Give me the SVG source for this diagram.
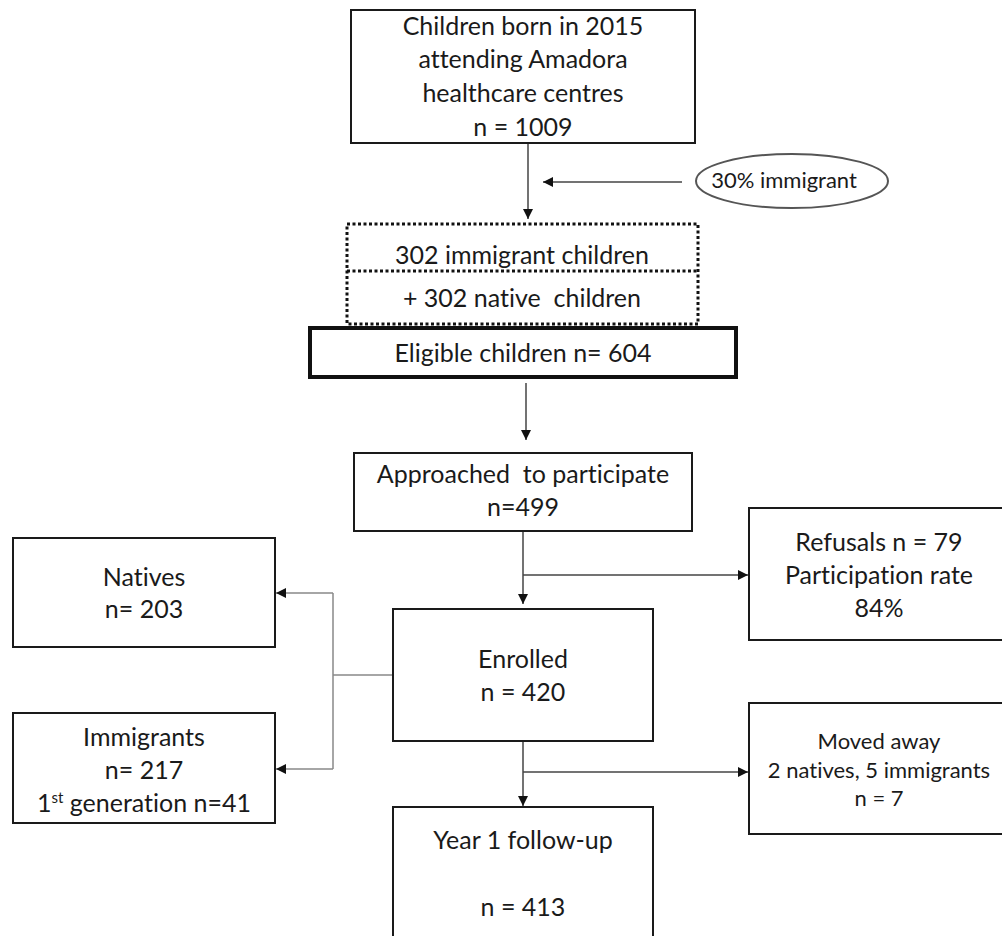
<svg xmlns="http://www.w3.org/2000/svg" width="1002" height="936" viewBox="0 0 1002 936">
<style>
  .box { fill: #fff; stroke: #1a1a1a; stroke-width: 2; }
  .thick { fill: #fff; stroke: #111; stroke-width: 4; }
  .dot { fill: none; stroke: #111; stroke-width: 3; stroke-dasharray: 3 2.5; }
  .t { font-family: Lato, "Liberation Sans", sans-serif; font-size: 25px; fill: #1a1a1a; text-anchor: middle; font-variant-ligatures: none; white-space: pre; }
  .s { font-size: 22px; }
  .c { stroke: #444; stroke-width: 1.5; fill: none; }
  .g { stroke: #888; stroke-width: 1.5; fill: none; }
</style>
<defs>
  <marker id="ah" viewBox="0 0 10 10" refX="10" refY="5" markerWidth="11" markerHeight="10" markerUnits="userSpaceOnUse" orient="auto">
    <path d="M0,0 L10,5 L0,10 Z" fill="#111"/>
  </marker>
</defs>

<g id="connectors">
  <line class="c" x1="528" y1="143" x2="528" y2="219" marker-end="url(#ah)"/>
  <line class="c" x1="682" y1="182" x2="543" y2="182" marker-end="url(#ah)"/>
  <line class="c" x1="526" y1="383" x2="526" y2="440" marker-end="url(#ah)"/>
  <line class="c" x1="523" y1="531" x2="523" y2="604" marker-end="url(#ah)"/>
  <line class="c" x1="523" y1="575" x2="748" y2="575" marker-end="url(#ah)"/>
  <line class="c" x1="523" y1="741" x2="523" y2="806" marker-end="url(#ah)"/>
  <line class="c" x1="523" y1="772" x2="748" y2="772" marker-end="url(#ah)"/>
  <line class="g" x1="393" y1="675" x2="333" y2="675"/>
  <line class="g" x1="333" y1="593" x2="333" y2="769"/>
  <line class="g" x1="333" y1="593" x2="276" y2="593" marker-end="url(#ah)"/>
  <line class="g" x1="333" y1="769" x2="276" y2="769" marker-end="url(#ah)"/>
</g>

<g id="n_born">
  <rect class="box" x="351" y="10" width="344" height="133"/>
  <text class="t" x="523" y="35">Children born in 2015</text>
  <text class="t" x="523" y="68">attending Amadora</text>
  <text class="t" x="523" y="102">healthcare centres</text>
  <text class="t" x="523" y="136">n = 1009</text>
</g>

<g id="n_pct">
  <ellipse cx="792" cy="181" rx="96" ry="27" fill="#fff" stroke="#555" stroke-width="2"/>
  <text class="t s" x="784" y="188">30% immigrant</text>
</g>

<g id="n_split">
  <rect class="dot" x="347" y="224" width="351" height="100"/>
  <line class="dot" x1="347" y1="271" x2="698" y2="271"/>
  <text class="t" x="522" y="264">302 immigrant children</text>
  <text class="t" x="522" y="307">+ 302 native  children</text>
</g>

<g id="n_eligible">
  <rect class="thick" x="310" y="328" width="426" height="49"/>
  <text class="t" x="523" y="362">Eligible children n= 604</text>
</g>

<g id="n_approached">
  <rect class="box" x="354" y="453" width="338" height="78"/>
  <text class="t" x="523" y="483">Approached  to participate</text>
  <text class="t" x="523" y="516">n=499</text>
</g>

<g id="n_refusals">
  <rect class="box" x="749" y="508" width="262" height="132"/>
  <text class="t" x="879" y="551">Refusals n = 79</text>
  <text class="t" x="879" y="584">Participation rate</text>
  <text class="t" x="879" y="617">84%</text>
</g>

<g id="n_natives">
  <rect class="box" x="13" y="538" width="262" height="109"/>
  <text class="t" x="144" y="586">Natives</text>
  <text class="t" x="144" y="618">n= 203</text>
</g>

<g id="n_enrolled">
  <rect class="box" x="393" y="609" width="260" height="132"/>
  <text class="t" x="523" y="668">Enrolled</text>
  <text class="t" x="523" y="701">n = 420</text>
</g>

<g id="n_immigrants">
  <rect class="box" x="13" y="713" width="262" height="110"/>
  <text class="t" x="144" y="746">Immigrants</text>
  <text class="t" x="144" y="779">n= 217</text>
  <text class="t" x="144" y="812">1<tspan font-size="15" dy="-9">st</tspan><tspan dy="9"> generation n=41</tspan></text>
</g>

<g id="n_moved">
  <rect class="box" x="749" y="703" width="262" height="131"/>
  <text class="t s" x="879" y="749">Moved away</text>
  <text class="t s" x="879" y="778">2 natives, 5 immigrants</text>
  <text class="t s" x="879" y="806">n = 7</text>
</g>

<g id="n_year1">
  <rect class="box" x="393" y="807" width="260" height="135"/>
  <text class="t" x="523" y="849">Year 1 follow-up</text>
  <text class="t" x="523" y="916">n = 413</text>
</g>
</svg>
